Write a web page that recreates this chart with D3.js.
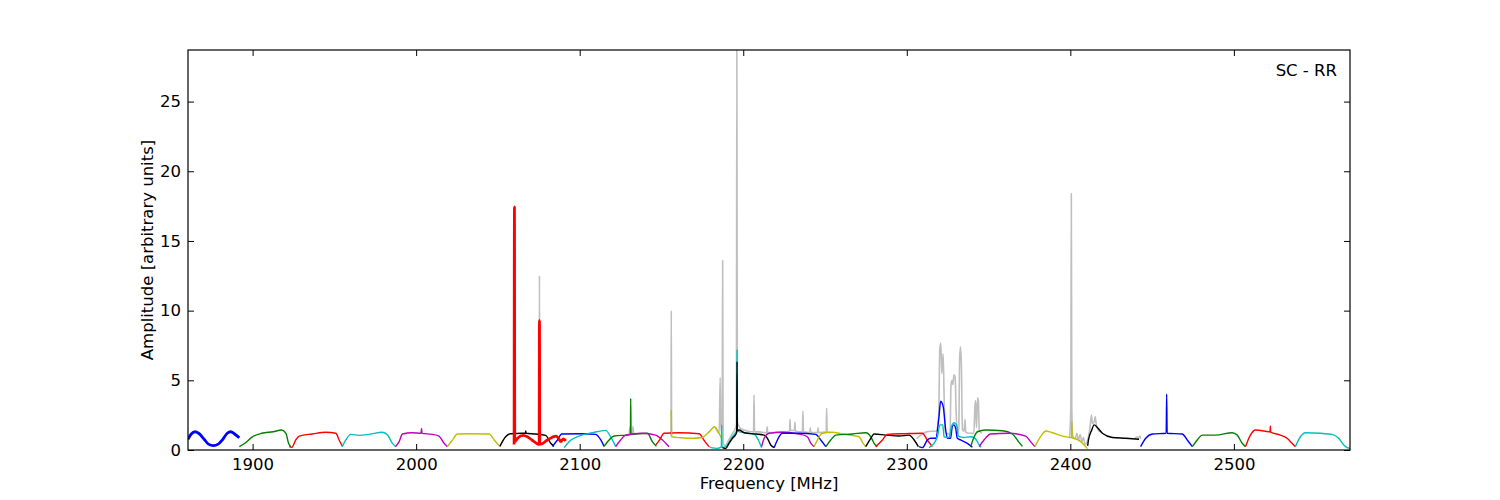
<!DOCTYPE html>
<html><head><meta charset="utf-8">
<script src="https://cdn.jsdelivr.net/npm/d3@7"></script>
<style>
html,body{margin:0;padding:0;background:#fff;}
text{font-family:"DejaVu Sans",sans-serif;}
</style></head>
<body><svg id="chart" width="1500" height="500"></svg>
<script>
// ---------------- data ----------------
const xTicks = [1900, 2000, 2100, 2200, 2300, 2400, 2500];
const yTicks = [0, 5, 10, 15, 20, 25];
const xDomain = [1860.5, 2571];
const yDomain = [0, 28.7];
const xLabel = "Frequency [MHz]";
const yLabel = "Amplitude [arbitrary units]";
const tag = "SC - RR";

// background spectrum (grey), visible portions
const grayA = [[2074.5,0.5],[2075.2,0.5],[2075.4,12.5],[2075.6,0.5],[2076,0.5]];
const grayB = [[2130.2,1.1],[2130.6,1.6],[2131.0,1.15],[2132.2,1.2],[2132.6,1.7],[2133.0,1.1]];
const grayC = [[2155.5,1.0],[2155.8,1.0],[2156.0,10.0],[2156.2,1.0],[2156.5,1.0]];
const grayD = [[2183,1.6],[2185.3,1.2],[2185.9,5.2],[2186.3,1.4],[2187.1,1.4],[2187.4,13.6],[2187.7,0.5],[2189,0.3],
  [2191,0.7],[2193,1.1],[2195,1.5],[2195.8,1.8],[2196.1,28.7],[2196.4,2.0],[2198,1.6],[2200,1.45],[2203,1.35],
  [2206.3,1.3],[2206.6,3.95],[2206.9,1.3],[2210,1.3],[2213,1.25],[2214.3,1.25],[2214.6,1.67],[2214.9,1.25],
  [2218,1.25],[2222,1.3],[2226,1.3],[2228.3,1.35],[2228.6,2.2],[2228.9,1.4],[2231.3,1.4],[2231.6,2.0],[2231.9,1.35],
  [2236.2,1.3],[2236.5,2.8],[2236.8,1.3],[2240.7,1.25],[2241.0,1.6],[2241.3,1.25],[2245.4,1.25],[2245.7,1.6],
  [2246.0,1.25],[2250.7,1.3],[2251.0,3.0],[2251.3,1.3],[2253,1.25]];
const grayE = [[2306,0.8],[2309,1.1],[2312,1.3],[2315,1.35],[2318,1.35],[2319.5,2.5],[2320.2,7.3],[2320.8,7.65],
  [2321.4,5.5],[2322.2,6.9],[2322.8,4.0],[2323.5,1.3],[2325,1.15],[2326.5,1.2],[2327.0,4.6],[2327.6,5.0],
  [2328.2,4.7],[2328.8,5.4],[2329.6,5.2],[2330.1,3.0],[2331,1.2],[2331.8,1.5],[2332.3,6.5],[2332.8,7.4],
  [2333.4,6.0],[2334,1.5],[2335,1.35],[2335.6,2.2],[2336,1.3],[2338,1.2],[2341,1.2],[2341.7,3.2],[2342.1,3.55],
  [2342.6,1.6],[2343.3,3.75],[2343.8,3.5],[2344.3,1.4],[2346,1.2]];
const grayF = [[2399.5,0.9],[2400.3,3.0],[2400.6,18.4],[2400.9,3.0],[2401.5,1.0],[2403,0.8],[2404,1.2],[2405,0.7],
  [2406,1.1],[2407,0.6],[2408,0.9],[2409,0.4],[2410,0.5],[2411,0.9],[2412,1.6],[2412.9,2.5],[2413.5,1.9],
  [2414.5,2.0],[2415.2,2.4],[2416,1.7],[2418,1.3]];
const grayG = [[2439.5,0.8],[2440.5,0.95],[2441.5,0.85],[2442.5,1.0],[2443,0.8]];
const grayParts = [grayA, grayB, grayC, grayD, grayE, grayF, grayG];

// channel passbands
const ch01 = [[1860.5,0.77],[1862.5,1.15],[1864.8,1.31],[1867,1.2],[1870.5,0.75],[1873,0.42],[1876,0.31],[1879,0.42],[1881.7,0.75],[1884.5,1.2],[1886.6,1.31],[1889,1.15],[1891.9,0.88]];
const ch02 = [[1891.9,0.24],[1895.3,0.48],[1899.4,0.91],[1905.5,1.2],[1912.6,1.31],[1917.8,1.43],[1920.4,1.2],[1922,0.48],[1923.4,0.24]];
const ch03 = [[1922.4,0.24],[1924,0.2],[1926.4,0.72],[1928.5,1.0],[1936.6,1.15],[1944.8,1.27],[1950.9,1.2],[1952.9,0.72],[1955,0.24]];
const ch04 = [[1954.8,0.24],[1957,0.72],[1960,1.12],[1965.2,1.05],[1971.3,1.12],[1979.4,1.27],[1982.5,1.07],[1985.5,0.48],[1987.6,0.24]];
const ch05 = [[1987.4,0.24],[1989.6,0.6],[1991.6,1.15],[1997.7,1.24],[2003.0,1.2],[2003.3,1.55],[2003.6,1.19],[2009.9,1.12],[2014,1.0],[2017.1,0.48],[2019.1,0.24]];
const ch06 = [[2019.1,0.24],[2022.2,0.72],[2025.2,1.15],[2032.4,1.17],[2044.6,1.15],[2047.7,0.72],[2051.2,0.26]];
const ch07 = [[2051.2,0.26],[2054.7,0.95],[2057.8,1.17],[2064.9,1.2],[2066.8,1.2],[2067.0,1.36],[2067.2,1.2],[2073,1.15],[2079.2,1.05],[2082.3,0.48],[2084.3,0.26]];
const ch08 = [[2059.9,0.4],[2060.1,17.45],[2060.3,0.6],[2062,0.85],[2065.5,1.05],[2068,0.95],[2071,0.7],[2074,0.45],[2075.2,0.4],[2075.4,9.3],[2075.6,0.4],[2077,0.45],[2080,0.7],[2083,0.9],[2085.5,1.0],[2087,0.85],[2088.5,0.6],[2090,0.8],[2091.5,0.65]];
const ch09 = [[2083.3,0.26],[2086.4,0.72],[2089,1.15],[2101.7,1.17],[2109.8,1.12],[2112.9,0.72],[2114.9,0.26]];
const ch10 = [[2090.5,0.17],[2093.5,0.6],[2099.6,1.0],[2107.7,1.24],[2115.9,1.41],[2118.9,0.95],[2122,0.26]];
const ch11 = [[2114.9,0.26],[2118,0.72],[2121,1.0],[2128.2,1.07],[2131.0,1.1],[2131.2,3.7],[2131.4,1.12],[2134.3,1.15],[2141.4,1.2],[2144.4,0.6],[2146.9,0.26]];
const ch12 = [[2122,0.24],[2125,0.72],[2128.2,1.07],[2138.4,1.2],[2146.5,1.07],[2150.6,0.72],[2154.6,0.24]];
const ch13 = [[2146.5,0.36],[2149,0.75],[2151.6,1.2],[2160.7,1.24],[2173,1.17],[2176.6,0.6],[2179.1,0.24]];
const ch14 = [[2156.0,2.85],[2156.2,0.95],[2162,0.88],[2168.9,0.84],[2174.8,0.9],[2179.1,1.3],[2182.5,1.67],[2184.2,1.43],[2186.2,0.95],[2186.6,0.86]];
const ch15 = [[2179.2,0.25],[2181,0.15],[2184,0.12],[2186.6,0.2],[2186.8,1.8],[2187.0,0.2],[2189,0.2],[2191,0.5],[2193,0.9],[2195,1.2],[2196.0,1.4],[2196.2,7.17],[2196.4,1.4],[2198,1.3],[2203,1.2],[2207,1.1],[2209.2,0.72],[2211.2,0.17]];
const ch16 = [[2187.3,0.17],[2189.3,0.1],[2191.3,0.48],[2193.4,0.84],[2195.8,1.2],[2196.0,1.3],[2196.2,6.33],[2196.4,1.4],[2197.5,1.43],[2200.6,1.24],[2207.7,1.15],[2212.8,1.07],[2214.8,0.84],[2216.8,0.36],[2218.9,0.17]];
const ch17 = [[2211.2,0.24],[2212.8,0.84],[2215.8,1.2],[2223.9,1.27],[2234.1,1.15],[2239.2,0.95],[2241.3,0.5],[2243.3,0.24]];
const ch18 = [[2218.9,0.17],[2220.9,0.72],[2223.9,1.2],[2234.1,1.2],[2244.3,1.12],[2247.4,0.72],[2250.5,0.24]];
const ch19 = [[2243.3,0.24],[2245.9,0.84],[2248.3,1.2],[2254.4,1.27],[2260.6,1.15],[2270.8,0.95],[2273.2,0.5],[2274.9,0.24]];
const ch20 = [[2250.5,0.24],[2253.5,0.72],[2256.6,1.07],[2266.8,1.15],[2274.9,1.24],[2278,0.95],[2280,0.48],[2282,0.24]];
const ch21 = [[2274.9,0.24],[2278,0.84],[2280,1.15],[2287.2,1.07],[2295.3,1.0],[2301.4,1.07],[2304.5,0.72],[2307.1,0.24]];
const ch22 = [[2281,0.24],[2285.1,0.72],[2288.1,1.12],[2299.3,1.17],[2309.5,1.2],[2312.5,0.72],[2315.6,0.24]];
const ch23 = [[2307.5,0.24],[2309.6,0.17],[2312.6,0.72],[2314.6,0.84],[2317.7,0.84],[2319.7,2.4],[2320.7,3.5],[2322.3,3.1],[2323.8,1.43],[2324.8,0.84],[2326.8,0.84],[2327.8,1.67],[2328.8,1.8],[2329.9,1.55],[2330.9,0.84],[2332.9,0.72],[2337,0.48],[2340.1,0.2]];
const ch24 = [[2313.6,0.17],[2316.6,0.48],[2318.7,0.95],[2320.3,1.8],[2322,1.8],[2322.8,0.95],[2325.8,0.9],[2327.3,1.67],[2328.9,1.96],[2330.5,1.8],[2331.5,1.0],[2335,0.9],[2339,0.95],[2342,0.8],[2344.1,0.4],[2345.5,0.2]];
const ch25 = [[2339.1,0.24],[2341.2,0.95],[2343.2,1.31],[2348.3,1.43],[2358.5,1.38],[2364.6,1.15],[2368.3,0.6],[2370.7,0.26]];
const ch26 = [[2344.2,0.24],[2347.2,0.72],[2351.3,1.15],[2362.5,1.2],[2372.7,1.0],[2375.7,0.6],[2378.3,0.24]];
const ch27 = [[2378.3,0.24],[2382,1.0],[2385,1.36],[2389.1,1.24],[2395.2,1.0],[2399.7,0.9],[2400.7,0.88],[2400.9,2.03],[2401.1,0.86],[2402.3,0.84],[2406.4,0.6],[2410.4,0.1]];
const ch28 = [[2410.6,0.3],[2411.1,0.72],[2413.1,1.43],[2414.5,1.8],[2416.5,1.62],[2419.6,1.2],[2425.7,0.9],[2433.9,0.84],[2442,0.77]];
const ch29 = [[2443,0.24],[2446.1,0.84],[2450.2,1.15],[2458.6,1.2],[2458.9,4.0],[2459.2,1.2],[2468.4,1.15],[2471.5,0.72],[2474.6,0.24]];
const ch30 = [[2474.6,0.24],[2477.6,0.72],[2480.7,1.07],[2488.8,1.07],[2499,1.24],[2502,1.07],[2505.1,0.48],[2507.1,0.24]];
const ch31 = [[2507.1,0.24],[2510.1,1.07],[2513.2,1.43],[2521.3,1.31],[2522.1,1.3],[2522.3,1.72],[2522.5,1.28],[2528.4,1.07],[2532.5,0.84],[2535.6,0.48],[2537.6,0.24]];
const ch32 = [[2537.6,0.24],[2540.7,0.95],[2543.7,1.24],[2552.9,1.2],[2560,1.12],[2564.1,0.84],[2567.2,0.36],[2569.2,0.17],[2571,0.12]];

const channels = [ch01,ch02,ch03,ch04,ch05,ch06,ch07,ch09,ch10,ch11,ch12,ch13,ch14,ch15,ch16,ch17,ch18,ch19,ch20,ch21,ch22,ch23,ch24,ch25,ch26,ch27,ch28,ch29,ch30,ch31,ch32,ch08];
const channelColors = ["b","g","r","c","m","y","k","b","c","g","m","r","y","c","k","m","b","y","g","k","r","b","c","g","m","y","k","b","g","r","c","r"];
const thickChannels = [ch01, ch08];

// ---------------- drawing ----------------
const palette = {b:"#0000ff", g:"#008000", r:"#ff0000", c:"#00bfbf", m:"#bf00bf", y:"#bfbf00", k:"#000000"};
const W = 1500, H = 500;
const L = 188, R = 1350, T = 50, B = 450;
const svg = d3.select("#chart");
const x = d3.scaleLinear().domain(xDomain).range([L, R]);
const y = d3.scaleLinear().domain(yDomain).range([B, T]);
const fs = "16.5px";

svg.append("defs").append("clipPath").attr("id","clip")
  .append("rect").attr("x",L).attr("y",T).attr("width",R-L).attr("height",B-T);

const line = d3.line().x(d => x(d[0])).y(d => y(d[1])).curve(d3.curveMonotoneX);
const plot = svg.append("g").attr("clip-path","url(#clip)");

grayParts.forEach(p => plot.append("path").attr("d", line(p))
  .attr("fill","none").attr("stroke","#bfbfbf").attr("stroke-width",1.6).attr("stroke-linejoin","round"));

channels.forEach((c, i) => plot.append("path").attr("d", line(c))
  .attr("fill","none").attr("stroke", palette[channelColors[i]])
  .attr("stroke-width", thickChannels.includes(c) ? 2.8 : 1.4)
  .attr("stroke-linejoin","round").attr("stroke-linecap","butt"));

// axes (ticks inward on all four sides)
const ax = (g, axis) => { g.call(axis); g.select(".domain").remove();
  g.selectAll("line").attr("stroke","#000"); g.selectAll("text").style("font-size",fs).attr("fill","#000")
   .style("font-family","DejaVu Sans"); };
svg.append("g").attr("transform",`translate(0,${B})`)
  .call(g => ax(g, d3.axisBottom(x).tickValues(xTicks).tickSize(-6).tickPadding(8).tickFormat(d3.format("d"))));
svg.append("g").attr("transform",`translate(0,${T})`)
  .call(g => ax(g, d3.axisTop(x).tickValues(xTicks).tickSize(-6).tickFormat("")));
svg.append("g").attr("transform",`translate(${L},0)`)
  .call(g => ax(g, d3.axisLeft(y).tickValues(yTicks).tickSize(-6).tickPadding(7).tickFormat(d3.format("d"))));
svg.append("g").attr("transform",`translate(${R},0)`)
  .call(g => ax(g, d3.axisRight(y).tickValues(yTicks).tickSize(-6).tickFormat("")));

svg.append("rect").attr("x",L).attr("y",T).attr("width",R-L).attr("height",B-T)
  .attr("fill","none").attr("stroke","#000").attr("stroke-width",1.2);

svg.append("text").attr("x",(L+R)/2).attr("y",489).attr("text-anchor","middle")
  .style("font-size",fs).text(xLabel);
svg.append("text").attr("transform",`translate(153,${(T+B)/2}) rotate(-90)`).attr("text-anchor","middle")
  .style("font-size",fs).text(yLabel);
svg.append("text").attr("x",1337).attr("y",76).attr("text-anchor","end")
  .style("font-size",fs).text(tag);
</script></body></html>
